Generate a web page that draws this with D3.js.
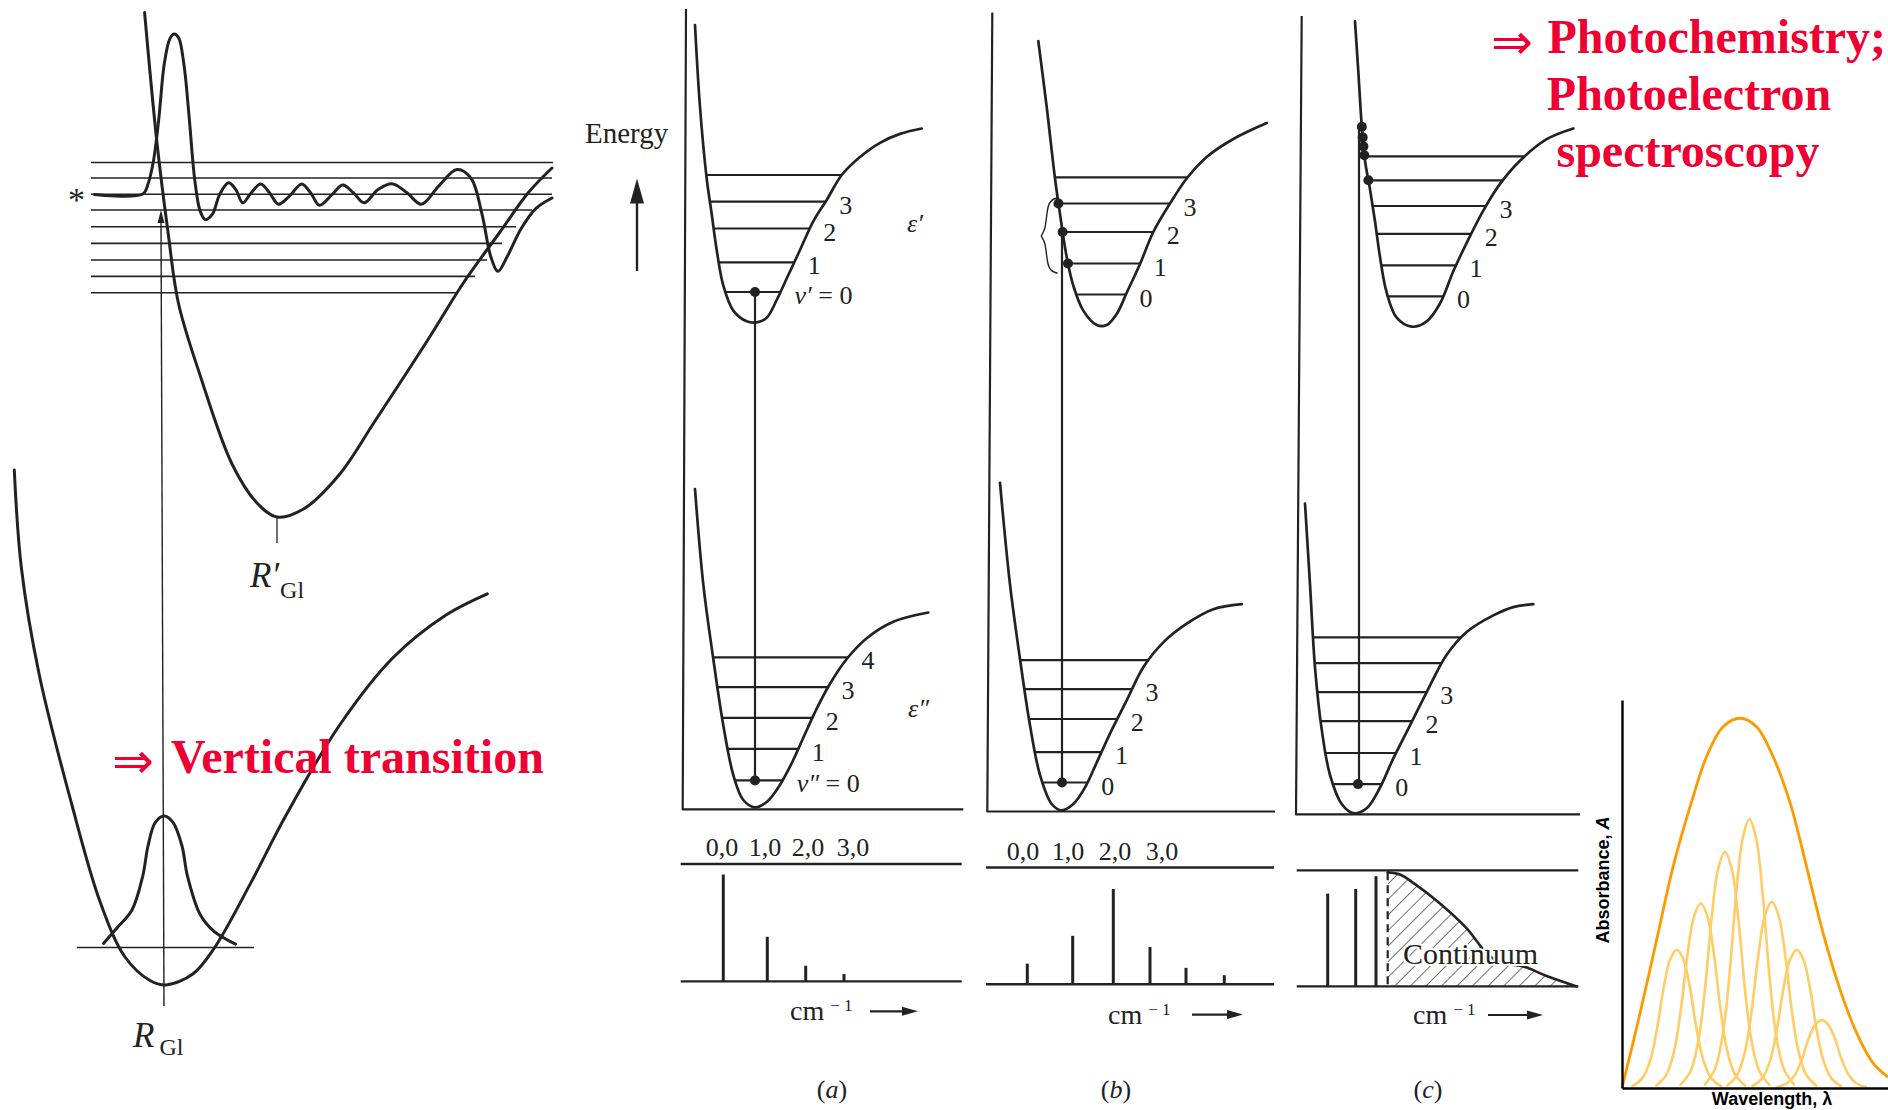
<!DOCTYPE html>
<html>
<head>
<meta charset="utf-8">
<script src="https://cdn.jsdelivr.net/npm/d3@7/dist/d3.min.js"></script>
<style>
  html, body { margin: 0; padding: 0; background: #fff; }
  svg { display: block; background: #fff; }
  text { font-family: "Liberation Serif", "Times New Roman", serif; fill: #222; }
</style>
</head>
<body>
<svg id="figure"></svg>
<script>
const W = 1888, H = 1110;
const INK = '#222', RED = '#ee0033', ORANGE = '#ff9900', LIGHT_ORANGE = '#ffcc66';

// ---- left diagram: excited state (R') and ground state (R) ----
// all coordinates are figure units
const excitedPotential = [[144.6,12.5],[157,143],[168,232],[178.5,303.5],[200,375],[232,464],[257,503],[277,517],[303.5,509],[339,475],[375,421],[428.4,339],[464,282],[500,232],[528,193],[552,168]];
const excitedWave = [[94.6,194.6],[142.8,194],[148,184],[153.5,160.7],[158.9,117.8],[164.2,64.3],[169.6,39.3],[173.9,33.9],[178.5,37.5],[183.9,64.3],[189.2,117.8],[194.6,178.5],[200,210.6],[205.3,219.6],[212.4,214.2],[219.6,194.6],[228.5,182.8],[235.6,189.2],[242.8,202.8],[249.9,194.6],[260.6,183.9],[269.5,192.8],[278.5,204.2],[289.2,196.4],[301.7,183.9],[310.6,192.8],[319.5,205.3],[332,194.6],[342.7,184.9],[353.4,192.8],[364.1,202.8],[378.4,189.2],[392.7,183.9],[407,192.8],[421.3,204.2],[439.1,185.6],[457,169.6],[471.2,178.5],[482,214.2],[490.9,257],[498,271.3],[507,257],[521.2,228.5],[535.5,208.8],[552,198]];
const excitedLevelY = [162.5, 178, 194.3, 210, 226.7, 243.4, 260, 276.4, 292.7];
const excitedLevelEnd = [553, 552, 552, 532, 516, 502, 487, 475, 456];
const groundPotential = [[14.3,470],[21.4,568],[39.3,675],[71.4,803],[100,901.5],[125,957],[150,980.5],[166,985],[192.8,974],[214,948.5],[250,884.4],[285.6,816],[339,726],[392.7,658],[446,615],[487.3,593.8]];
const groundWave = [[103.5,943.4],[117.8,927],[132,910],[142.8,875.8],[148,846],[155.3,822.4],[164.2,816],[173,822.4],[182,846],[187.4,875.8],[200,914.3],[214,931.4],[235.6,944.2]];

// ---- panels (a), (b), (c): upper and lower potential wells ----
const aUpperCurve = [[695,25],[700,107],[706.7,178.5],[711.7,214],[716.7,250],[723.3,285.6],[733.3,310.6],[746.7,321.3],[756.7,322.4],[766.7,317.7],[776.7,300],[786.7,278.5],[800,250],[813.3,221.3],[826.7,200],[841.7,175],[860,157],[880,142.8],[900,133.9],[921.7,128.5]];
const aLowerCurve = [[695,489],[703.3,584.4],[713.3,659],[723.3,725.3],[733.3,775],[743.3,800],[755,807.4],[766.7,802],[778.3,787.5],[790,766.7],[803.3,737.7],[816.7,708.7],[830,683.8],[846.7,659],[866.7,638.2],[893.3,621.7],[928.3,612.5]];
const bUpperCurve = [[1038.3,41],[1046.7,107],[1055,178.5],[1060,214],[1066.7,257],[1073.3,285.6],[1083.3,310.6],[1096.7,325],[1106.7,325],[1116.7,314],[1126.7,292.7],[1140,264],[1153.3,232],[1170,203.5],[1186.7,178.5],[1206.7,157],[1233.3,139],[1266.7,123]];
const bLowerCurve = [[1000,482.8],[1010,584.4],[1020,659],[1030,725.3],[1040,775],[1051.7,804],[1061.7,810.3],[1073.3,804],[1085,787.5],[1096.7,762.6],[1110,733.6],[1126.7,700.4],[1143.3,667.3],[1163.3,642.4],[1186.7,623.7],[1213.3,609.2],[1241.7,604.2]];
const cUpperCurve = [[1355,21.4],[1358.3,71.4],[1361.7,125],[1365,160.7],[1370,189.2],[1375,221.3],[1380,257],[1386.7,292.7],[1396.7,317.7],[1411.7,326.7],[1426.7,321.3],[1440,303.5],[1453.3,271.3],[1466.7,242.8],[1483.3,210.6],[1500,183.9],[1520,160.7],[1546.7,139.2],[1573.3,128.5]];
const cLowerCurve = [[1305,503.5],[1310,584.4],[1315,667.3],[1321.7,729.4],[1330,775],[1341.7,804],[1353.3,813.2],[1366.7,808.2],[1380,787.5],[1393.3,758.4],[1410,725.3],[1426.7,692.1],[1446.7,654.8],[1466.7,632],[1493.3,615.4],[1513.3,607.1],[1533.3,604.2]];

// vibrational levels, bottom (v=0) to top
const aUpperLevels = [292, 262.4, 228.5, 201.7, 175];
const aLowerLevels = [780.4, 748.9, 717.8, 687.1, 657.3];
const bUpperLevels = [294.5, 263.5, 232, 203.5, 177.4];
const bLowerLevels = [782.5, 752.2, 719, 689.2, 660.2];
const cUpperLevels = [296.3, 265.3, 233.8, 206, 180.3, 156.4];
const cLowerLevels = [784.1, 753, 721.1, 692.1, 663.1, 637.4];
const aUpperLabels = ['v′ = 0', '1', '2', '3', ''];
const aLowerLabels = ['v″ = 0', '1', '2', '3', '4'];
const bUpperLabels = ['0', '1', '2', '3', ''];
const bLowerLabels = ['0', '1', '2', '3', ''];
const cUpperLabels = ['0', '1', '2', '3', '', ''];
const cLowerLabels = ['0', '1', '2', '3', '', ''];

// upper-state points reached by the transition
const bUpperDotY = [263.5, 232, 203.5];
const cUpperDotY = [126.7, 137.4, 146.4, 155.3, 180.3];

// spectra: line positions and relative intensities
const progressionLabels = ['0,0', '1,0', '2,0', '3,0'];
const aLabelPos = [722, 765, 808, 853];
const bLabelPos = [1023, 1068, 1115, 1162];
const aLinePos = [723.3, 767.3, 805.7, 844];
const aLineInt = [0.91, 0.38, 0.134, 0.063];
const bLinePos = [1027.3, 1072.7, 1113.3, 1150, 1186, 1224.3];
const bLineInt = [0.177, 0.415, 0.816, 0.319, 0.141, 0.078];
const cLinePos = [1327.7, 1355.7, 1376];
const cLineInt = [0.80, 0.84, 0.95];
const cContinuum = [[1387.7,0.983],[1400,0.964],[1413.3,0.893],[1440,0.715],[1466.7,0.50],[1486.7,0.285],[1500,0.207],[1523.3,0.172],[1546.7,0.09],[1576.7,0]];

// ---- right: absorbance band (wavelength 0..100, absorbance 0..1) ----
const envelope = [[0,0],[6.8,0.193],[13,0.381],[19.2,0.57],[25.6,0.725],[31.8,0.854],[38,0.931],[44.4,0.953],[50.6,0.931],[56.8,0.854],[63.2,0.735],[69.4,0.57],[75.6,0.399],[82,0.253],[88.2,0.142],[94.4,0.064],[100,0.028]];
const bandCenters = [20.6, 29.6, 38.7, 47.9, 56.3, 65.7, 75.1];
const bandPeaks = [0.356, 0.476, 0.609, 0.693, 0.48, 0.356, 0.175];
const bandShape = [[-17,0.01],[-13,0.07],[-10,0.2],[-7.5,0.42],[-5,0.72],[-2.5,0.93],[0,1],[2.5,0.93],[5,0.72],[7.5,0.42],[10,0.2],[13,0.07],[17,0.01]];

// ---------------------------------------------------------------
const svg = d3.select('#figure').attr('width', W).attr('height', H);
const fx = d3.scaleLinear().domain([0, 1888]).range([0, W]);
const fy = d3.scaleLinear().domain([0, 1110]).range([0, H]);
const smoothLine = d3.line().x(d => fx(d[0])).y(d => fy(d[1])).curve(d3.curveCatmullRom.alpha(0.5));
const polyLine = d3.line().x(d => fx(d[0])).y(d => fy(d[1]));

function drawPath(pts, width, gen = smoothLine, color = INK) {
  return svg.append('path').attr('d', gen(pts)).attr('fill', 'none')
    .attr('stroke', color).attr('stroke-width', width)
    .attr('stroke-linecap', 'round').attr('stroke-linejoin', 'round');
}
function drawSeg(x1, y1, x2, y2, width) {
  return drawPath([[x1, y1], [x2, y2]], width, polyLine).attr('stroke-linecap', 'butt');
}
function arrowHead(tipX, tipY, dir, len, half) {
  const pts = dir === 'up'
    ? [[tipX, tipY], [tipX - half, tipY + len], [tipX + half, tipY + len]]
    : [[tipX, tipY], [tipX - len, tipY - half], [tipX - len, tipY + half]];
  svg.append('path').attr('d', polyLine(pts) + 'Z').attr('fill', INK);
}
function label(x, y, parts, opts = {}) {
  const t = svg.append('text').attr('x', fx(x)).attr('y', fy(y))
    .attr('font-size', opts.size || 26).attr('text-anchor', opts.anchor || 'start');
  if (opts.fill) t.style('fill', opts.fill);
  if (opts.weight) t.attr('font-weight', opts.weight);
  if (opts.family) t.style('font-family', opts.family);
  [].concat(parts).forEach(p => {
    const s = typeof p === 'string' ? { t: p } : p;
    const ts = t.append('tspan').text(s.t);
    if (s.italic) ts.attr('font-style', 'italic');
    if (s.size) ts.attr('font-size', s.size);
    if (s.dy) ts.attr('dy', s.dy);
    if (s.dx) ts.attr('dx', s.dx);
  });
  return t;
}
function dot(x, y) {
  svg.append('circle').attr('cx', fx(x)).attr('cy', fy(y)).attr('r', 5).attr('fill', INK);
}
function samplePath(node) {
  const len = node.getTotalLength(), pts = [];
  for (let s = 0; s <= len; s += 0.5) {
    const p = node.getPointAtLength(s);
    pts.push([fx.invert(p.x), fy.invert(p.y)]);
  }
  return pts;
}
function crossings(pts, y) {
  const xs = [];
  for (let i = 0; i < pts.length - 1; i++) {
    const [x0, y0] = pts[i], [x1, y1] = pts[i + 1];
    if ((y0 - y) * (y1 - y) <= 0 && y0 !== y1) xs.push(x0 + (y - y0) / (y1 - y0) * (x1 - x0));
  }
  return [d3.min(xs), d3.max(xs)];
}

// ================= left diagram =================
excitedLevelY.forEach((y, i) => drawSeg(91, y, excitedLevelEnd[i], y, 1.6));
drawPath(excitedPotential, 3);
drawPath(excitedWave, 3);
label(76.5, 211, '*', { size: 34, anchor: 'middle' });
drawSeg(277, 517, 277, 543, 1.3);
label(250, 587, [{ t: 'R′', italic: true, size: 35 }, { t: 'Gl', size: 24, dy: 11, dx: 1 }]);

drawPath(groundPotential, 3);
drawSeg(76.8, 947.5, 254, 947.5, 1.6);
drawPath(groundWave, 3);
drawSeg(161, 222, 164, 1006, 1.4);
arrowHead(161, 210, 'up', 13, 3.5);
label(133, 1047, [{ t: 'R', italic: true, size: 35 }, { t: 'Gl', size: 24, dy: 8, dx: 5 }]);

label(112, 778, '⇒', { size: 50, fill: RED, family: '"DejaVu Sans", sans-serif' });
label(171, 773.3, 'Vertical transition', { size: 48, weight: 'bold', fill: RED });

// ================= panels (a), (b), (c) =================
const panelAxes = [
  [[686, 9], [682.7, 809.4], [963.3, 809.4]],
  [[992.3, 12.5], [987.3, 811.5], [1275, 811.5]],
  [[1301.7, 16], [1296, 814.4], [1580, 814.4]]
];
panelAxes.forEach(a => drawPath(a, 2.2, polyLine).attr('stroke-linecap', 'butt'));

function drawWell(curve, levelYs, levelLabels) {
  const node = drawPath(curve, 2.7).node();
  const pts = samplePath(node);
  levelYs.forEach((y, i) => {
    const [x0, x1] = crossings(pts, y);
    drawSeg(x0, y, x1, y, 2.2);
    const lab = levelLabels[i];
    if (!lab) return;
    if (lab.length > 1) {
      label(x1 + 14, y + 12, [{ t: lab.slice(0, 2), italic: true }, lab.slice(2)], { size: 26 });
    } else {
      label(x1 + 20, y + 12, lab, { size: 26, anchor: 'middle' });
    }
  });
  return pts;
}
const aUp = drawWell(aUpperCurve, aUpperLevels, aUpperLabels);
const aLow = drawWell(aLowerCurve, aLowerLevels, aLowerLabels);
const bUp = drawWell(bUpperCurve, bUpperLevels, bUpperLabels);
const bLow = drawWell(bLowerCurve, bLowerLevels, bLowerLabels);
const cUp = drawWell(cUpperCurve, cUpperLevels, cUpperLabels);
const cLow = drawWell(cLowerCurve, cLowerLevels, cLowerLabels);

// (a) 0 -> 0 vertical transition
drawSeg(755, aUpperLevels[0], 755, aLowerLevels[0], 2.2);
dot(755, aUpperLevels[0]);
dot(755, aLowerLevels[0]);
// (b) transition hits the steep wall around v'=2
drawSeg(1062, bLowerLevels[0], 1062, bUpperLevels[2], 2.2);
dot(1062, bLowerLevels[0]);
bUpperDotY.forEach(y => dot(crossings(bUp, y)[0], y));
drawPath([[1057,198],[1047,201],[1046,232],[1039,236],[1046,240],[1047,270],[1057,273]], 1.4, d3.line().x(d => fx(d[0])).y(d => fy(d[1])).curve(d3.curveBasis));
// (c) transition into the dissociation continuum
drawSeg(1359, cLowerLevels[0], 1359, cUpperDotY[0], 2.2);
dot(1358, cLowerLevels[0]);
cUpperDotY.forEach(y => dot(crossings(cUp, y)[0], y));

label(585, 142.8, 'Energy', { size: 29 });
drawSeg(637, 271, 637, 200, 2.4);
arrowHead(637, 178.5, 'up', 25, 7);
label(907, 232, [{ t: 'ε′', italic: true }], { size: 26 });
label(908, 717, [{ t: 'ε″', italic: true }], { size: 26 });

// spectra
const spectra = [
  { top: 864, base: 981.4, x0: 680.7, x1: 961.7, pos: aLinePos, int: aLineInt, labPos: aLabelPos, labY: 855.8, cmX: 790, cmY: 1019.6, arrow: [870, 918, 1011.3], cap: 'a', capX: 832 },
  { top: 867.5, base: 984.3, x0: 986, x1: 1274, pos: bLinePos, int: bLineInt, labPos: bLabelPos, labY: 860, cmX: 1108, cmY: 1023.7, arrow: [1192, 1243, 1014.6], cap: 'b', capX: 1116 },
  { top: 870.4, base: 986.4, x0: 1296.7, x1: 1578.3, pos: cLinePos, int: cLineInt, labPos: null, cmX: 1413, cmY: 1023.7, arrow: [1488, 1543, 1015], cap: 'c', capX: 1428 }
];
spectra.forEach(s => {
  const iy = d3.scaleLinear().domain([0, 1]).range([s.base, s.top]);
  drawSeg(s.x0, s.top, s.x1, s.top, 2.4);
  drawSeg(s.x0, s.base, s.x1, s.base, 2.4);
  s.pos.forEach((x, i) => drawSeg(x, s.base, x, iy(s.int[i]), 3));
  if (s.labPos) progressionLabels.forEach((t, i) => label(s.labPos[i], s.labY, t, { size: 26, anchor: 'middle' }));
  label(s.cmX, s.cmY, ['cm', { t: '− 1', size: 17, dy: -9, dx: 6 }], { size: 28 });
  drawSeg(s.arrow[0], s.arrow[2], s.arrow[1] - 12, s.arrow[2], 2.2);
  arrowHead(s.arrow[1], s.arrow[2], 'right', 16, 4.5);
  label(s.capX, 1098, ['(', { t: s.cap, italic: true }, ')'], { size: 26, anchor: 'middle' });
  s.iy = iy;
});

// (c) hatched continuum
const cs = spectra[2];
const defs = svg.append('defs');
defs.append('pattern').attr('id', 'hatch').attr('patternUnits', 'userSpaceOnUse')
  .attr('width', 11).attr('height', 11).attr('patternTransform', 'rotate(45)')
  .append('line').attr('x1', 0).attr('y1', 0).attr('x2', 0).attr('y2', 11)
  .attr('stroke', INK).attr('stroke-width', 1.3);
const contArea = d3.area().x(d => fx(d[0])).y0(fy(cs.base)).y1(d => fy(cs.iy(d[1])))
  .curve(d3.curveCatmullRom.alpha(0.5));
svg.append('path').attr('d', contArea(cContinuum)).attr('fill', 'url(#hatch)');
drawPath(cContinuum.map(d => [d[0], cs.iy(d[1])]), 2.6);
drawSeg(cContinuum[0][0], cs.iy(cContinuum[0][1]), cContinuum[0][0], cs.base, 2.2).attr('stroke-dasharray', '8,5');
label(1403, 963.6, 'Continuum', { size: 30 })
  .style('stroke', '#fff').style('stroke-width', 4).style('paint-order', 'stroke');

// ================= right: absorbance band =================
const absX = d3.scaleLinear().domain([0, 100]).range([1622, 1888]);
const absY = d3.scaleLinear().domain([0, 1]).range([1088, 700]);
const absLine = d3.line().x(d => fx(absX(d[0]))).y(d => fy(absY(d[1]))).curve(d3.curveCatmullRom.alpha(0.5));
bandCenters.forEach((c, i) => {
  const pts = bandShape.map(([dx, f]) => [c + dx, bandPeaks[i] * f]);
  svg.append('path').attr('d', absLine(pts)).attr('fill', 'none')
    .attr('stroke', LIGHT_ORANGE).attr('stroke-width', 2.6);
});
svg.append('path').attr('d', absLine(envelope)).attr('fill', 'none')
  .attr('stroke', ORANGE).attr('stroke-width', 2.8);

const yAxisScale = d3.scaleLinear().domain([0, 1]).range([fy(absY(0)), fy(absY(1))]);
const xAxisScale = d3.scaleLinear().domain([0, 100]).range([fx(absX(0)), fx(absX(100))]);
svg.append('g').attr('transform', `translate(${fx(1622)},0)`)
  .call(d3.axisLeft(yAxisScale).tickValues([]).tickSizeOuter(0))
  .select('.domain').attr('stroke', '#000').attr('stroke-width', 2.4);
svg.append('g').attr('transform', `translate(0,${fy(1088)})`)
  .call(d3.axisBottom(xAxisScale).tickValues([]).tickSizeOuter(0))
  .select('.domain').attr('stroke', '#000').attr('stroke-width', 2.4);

svg.append('text').attr('transform', `translate(${fx(1609)},${fy(880)}) rotate(-90)`)
  .attr('text-anchor', 'middle').attr('font-size', 18).attr('font-weight', 'bold')
  .style('font-family', '"Liberation Sans", Arial, sans-serif').style('fill', '#000')
  .call(t => { t.append('tspan').text('Absorbance, '); t.append('tspan').attr('font-style', 'italic').text('A'); });
label(1772, 1105, 'Wavelength, λ', { size: 18, anchor: 'middle', weight: 'bold', family: '"Liberation Sans", Arial, sans-serif', fill: '#000' });

// ================= red annotations =================
label(1491, 59, '⇒', { size: 50, fill: RED, family: '"DejaVu Sans", sans-serif' });
label(1547.5, 53.3, 'Photochemistry;', { size: 48, weight: 'bold', fill: RED });
label(1689, 110, 'Photoelectron', { size: 48, weight: 'bold', fill: RED, anchor: 'middle' });
label(1688, 166.7, 'spectroscopy', { size: 48, weight: 'bold', fill: RED, anchor: 'middle' });
</script>
</body>
</html>
